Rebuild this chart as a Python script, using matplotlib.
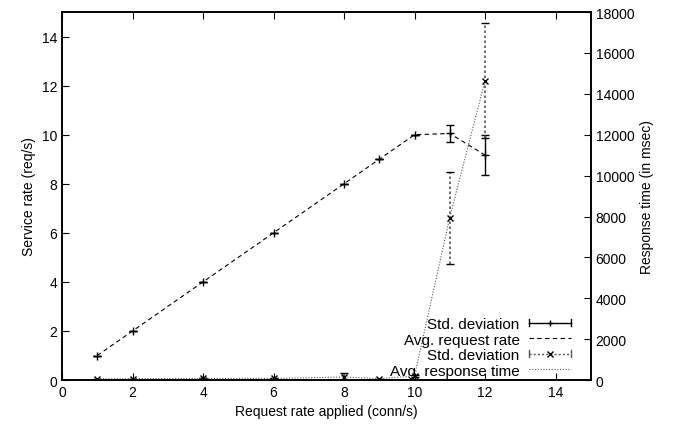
import matplotlib
matplotlib.use("Agg")
import matplotlib.pyplot as plt
from matplotlib.lines import Line2D
from matplotlib.legend_handler import HandlerBase

plt.rcParams["font.family"] = ["Liberation Sans", "DejaVu Sans"]
plt.rcParams["font.size"] = 10

# service rate (left axis)
rate = [1, 2, 4, 6, 8, 9, 10, 11, 12]
served = [1, 2, 4, 6, 8, 9, 10, 10.05, 9.17]
served_err = [0, 0, 0, 0, 0, 0, 0, 0.33, 0.8]

# response time (right axis, msec)
resp = [60, 70, 80, 80, 150, 70, 200, 7950, 14650]
resp_err = [0, 0, 0, 0, 200, 0, 50, 2250, 2800]


class ErrKey(HandlerBase):
    # gnuplot-like key sample: horizontal bar with end caps and a marker in the middle
    def __init__(self, marker, ls, color):
        super().__init__()
        self.marker, self.ls, self.color = marker, ls, color

    def create_artists(self, legend, orig, xd, yd, w, h, fs, trans):
        y = h / 2 - yd
        x0, x1 = -xd, w - xd
        c = h * 0.35
        arts = [Line2D([x0, x1], [y, y], color=self.color, lw=1, ls=self.ls),
                Line2D([x0, x0], [y - c, y + c], color=self.color, lw=1),
                Line2D([x1, x1], [y - c, y + c], color=self.color, lw=1),
                Line2D([(x0 + x1) / 2], [y], marker=self.marker, color="black", ms=5, ls="none")]
        for a in arts:
            a.set_transform(trans)
        return arts


fig = plt.figure(figsize=(6.77, 4.35), dpi=100)
ax1 = fig.add_axes([0.0916, 0.124, 0.781, 0.846])
ax2 = ax1.twinx()

h1 = ax1.errorbar(rate, served, yerr=served_err, fmt="+", color="black", ms=6,
                  elinewidth=1, capsize=3, label="Std. deviation")
h2, = ax1.plot(rate, served, color="black", lw=0.8, ls=(0, (4, 3)), label="Avg. request rate")

h3 = ax2.errorbar(rate, resp, yerr=resp_err, fmt="x", color="black", ms=5,
                  elinewidth=1.2, capsize=3, label="Std. deviation")
h3[2][0].set_linestyle((0, (1.5, 1.5)))
h3[2][0].set_color("#555555")
h4, = ax2.plot(rate, resp, color="#555555", lw=0.8, ls=(0, (1, 1.5)), label="Avg. response time")

ax1.set_xlim(0, 15)
ax1.set_ylim(0, 15)
ax2.set_ylim(0, 18000)
ax1.set_xticks(range(0, 15, 2))
ax1.set_yticks(range(0, 15, 2))
ax2.set_yticks(range(0, 18001, 2000))

ax1.set_xlabel("Request rate applied (conn/s)")
ax1.set_ylabel("Service rate (req/s)")
ax2.set_ylabel("Response time (in msec)")

for ax in (ax1, ax2):
    ax.tick_params(direction="in", length=5, width=0.8)
    for s in ax.spines.values():
        s.set_linewidth(1.2)
ax1.tick_params(top=True)

ax2.legend([h1, h2, h3, h4],
           ["Std. deviation", "Avg. request rate", "Std. deviation", "Avg. response time"],
           handler_map={h1: ErrKey("+", "-", "black"),
                        h3: ErrKey("x", (0, (1.5, 1.5)), "#555555")},
           loc="lower right", bbox_to_anchor=(0.978, -0.014), frameon=False,
           markerfirst=False, handlelength=2.8, handletextpad=0.6,
           labelspacing=0.1, borderaxespad=0.1, fontsize=11)

fig.savefig("out.png", dpi=100)
